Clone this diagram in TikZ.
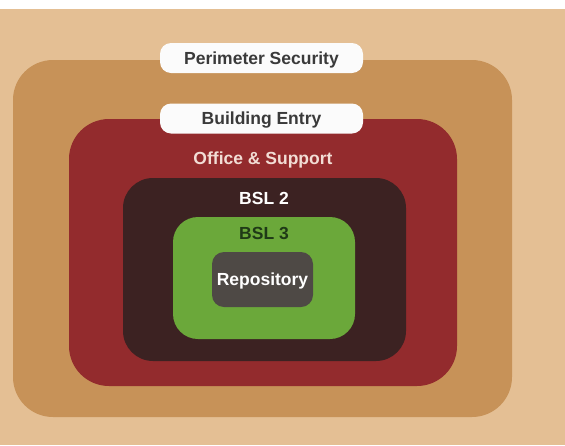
\documentclass[tikz,border=0pt]{standalone}
\usepackage{fontspec}
\setmainfont{Liberation Sans}
\usetikzlibrary{positioning}

\definecolor{bgtan}{HTML}{E4BF94}
\definecolor{perimfill}{HTML}{C79258}
\definecolor{officefill}{HTML}{932B2D}
\definecolor{bsltwofill}{HTML}{3C2222}
\definecolor{bslthreefill}{HTML}{6BA83A}
\definecolor{repofill}{HTML}{4E4945}
\definecolor{tagtext}{HTML}{3A3A3A}
\definecolor{officetext}{HTML}{F2DDD5}
\definecolor{bslthreetext}{HTML}{1F3A17}

\begin{document}
\begin{tikzpicture}[
    x=1pt, y=-1pt,
    zone/.style={rectangle, inner sep=0pt, draw=none},
    tag/.style={rectangle, rounded corners=11pt, fill=white!97!gray, minimum width=203pt, minimum height=30pt, inner sep=0pt, font=\bfseries\fontsize{17.5}{20}\selectfont, text=tagtext, text height=12.6pt, text depth=0pt},
    lbl/.style={inner sep=0pt, font=\bfseries\fontsize{17.5}{20}\selectfont, text height=12.6pt, text depth=0pt}
]

% Background
\useasboundingbox (0,0) rectangle (565,445);
\fill[bgtan] (0,0) rectangle (565,445);
\fill[white] (0,0) rectangle (565,9);

% Nested zones
\node[zone, fill=perimfill, rounded corners=40pt, minimum width=499pt, minimum height=357pt] (perim) at (262.5,238.5) {};
\node[zone, fill=officefill, rounded corners=40pt, minimum width=388pt, minimum height=267pt] (office) at (263,252.5) {};
\node[zone, fill=bsltwofill, rounded corners=30pt, minimum width=283pt, minimum height=183pt] (bsltwo) at (264.5,269.5) {};
\node[zone, fill=bslthreefill, rounded corners=25pt, minimum width=182pt, minimum height=122pt] (bslthree) at (264,278) {};
\node[zone, fill=repofill, rounded corners=12pt, minimum width=101pt, minimum height=55pt, font=\bfseries\fontsize{17.5}{20}\selectfont, text=white, text height=12.6pt, text depth=0pt] (repo) at (262.5,279.5) {Repository};

% Zone labels
\node[lbl, text=officetext] (officelbl) at (263,158) {Office \& Support};
\node[lbl, text=white] (bsltwolbl) at (264,198) {BSL 2};
\node[lbl, text=bslthreetext] (bslthreelbl) at (264,233) {BSL 3};

% Entry tags
\node[tag] (perimtag) at (261.5,58) {Perimeter Security};
\node[tag] (entrytag) at (261.5,118.5) {Building Entry};

\end{tikzpicture}
\end{document}
